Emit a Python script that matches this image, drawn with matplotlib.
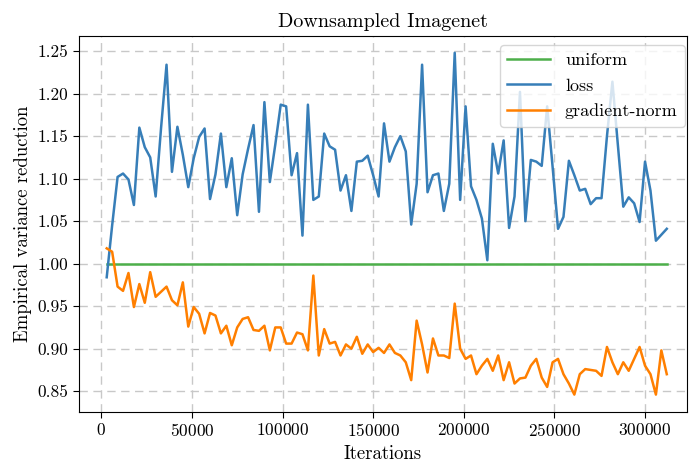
import numpy as np
import matplotlib
matplotlib.use("Agg")
import matplotlib.pyplot as plt

# iterations (every 3000 steps)
iterations = [3000 * k for k in range(1, 105)]

loss = [0.984, 1.045, 1.102, 1.106, 1.099, 1.069, 1.160, 1.137, 1.125, 1.079,
        1.160, 1.234, 1.108, 1.161, 1.128, 1.090, 1.124, 1.149, 1.159, 1.076,
        1.105, 1.153, 1.090, 1.124, 1.057, 1.105, 1.135, 1.163, 1.061, 1.190,
        1.096, 1.140, 1.187, 1.185, 1.104, 1.130, 1.033, 1.187, 1.075, 1.079,
        1.153, 1.138, 1.134, 1.086, 1.104, 1.062, 1.120, 1.121, 1.127, 1.104,
        1.079, 1.165, 1.120, 1.137, 1.150, 1.132, 1.046, 1.094, 1.234, 1.084,
        1.104, 1.106, 1.062, 1.094, 1.248, 1.075, 1.185, 1.091, 1.075, 1.053,
        1.004, 1.141, 1.106, 1.145, 1.042, 1.079, 1.202, 1.050, 1.122, 1.120,
        1.115, 1.185, 1.114, 1.041, 1.055, 1.121, 1.104, 1.086, 1.088, 1.070,
        1.077, 1.077, 1.150, 1.214, 1.140, 1.067, 1.078, 1.071, 1.049, 1.120,
        1.086, 1.027, 1.034, 1.041]

grad_norm = [1.018, 1.014, 0.973, 0.968, 0.989, 0.949, 0.976, 0.954, 0.990, 0.961,
             0.967, 0.973, 0.957, 0.951, 0.978, 0.926, 0.949, 0.941, 0.918, 0.942,
             0.939, 0.918, 0.927, 0.904, 0.925, 0.935, 0.937, 0.922, 0.921, 0.927,
             0.898, 0.925, 0.925, 0.906, 0.906, 0.919, 0.917, 0.898, 0.986, 0.892,
             0.923, 0.906, 0.908, 0.892, 0.905, 0.900, 0.914, 0.894, 0.905, 0.896,
             0.901, 0.895, 0.905, 0.895, 0.892, 0.884, 0.863, 0.933, 0.905, 0.872,
             0.912, 0.892, 0.892, 0.889, 0.953, 0.900, 0.888, 0.892, 0.870, 0.880,
             0.888, 0.874, 0.892, 0.863, 0.884, 0.859, 0.865, 0.866, 0.880, 0.888,
             0.866, 0.855, 0.884, 0.888, 0.870, 0.859, 0.846, 0.870, 0.876, 0.875,
             0.874, 0.868, 0.902, 0.884, 0.870, 0.884, 0.874, 0.888, 0.902, 0.880,
             0.870, 0.846, 0.898, 0.870]

uniform = [1.0] * len(iterations)

plt.rcParams['font.family'] = 'serif'
plt.rcParams['font.serif'] = ['cmr10', 'DejaVu Serif']
plt.rcParams['mathtext.fontset'] = 'cm'
plt.rcParams['axes.formatter.use_mathtext'] = True
plt.rcParams['font.size'] = 12.5

fig = plt.figure(figsize=(6.91, 4.62), dpi=100)
ax = fig.add_axes([0.1143, 0.1089, 0.8795, 0.8138])

ax.plot(iterations, uniform, color='#4daf4a', lw=1.8, label='uniform')
ax.plot(iterations, loss, color='#377eb8', lw=1.8, label='loss')
ax.plot(iterations, grad_norm, color='#ff7f00', lw=1.8, label='gradient-norm')

ax.set_xlim(-12300, 323000)
ax.set_xticks([0, 50000, 100000, 150000, 200000, 250000, 300000])
ax.set_yticks(np.arange(0.85, 1.2501, 0.05))
ax.yaxis.set_major_formatter(matplotlib.ticker.FormatStrFormatter('%.2f'))
ax.grid(True, color='#c8c8c8', linestyle=(0, (6, 4)), linewidth=1.0)
ax.set_axisbelow(True)
ax.tick_params(direction='out', length=4, width=0.8)

ax.set_title('Downsampled Imagenet', fontsize=14.5)
ax.set_xlabel('Iterations', fontsize=13.5)
ax.set_ylabel('Empirical variance reduction', fontsize=13.5)
ax.legend(loc='upper right', bbox_to_anchor=(0.997, 0.975),
          framealpha=0.8, edgecolor='#cccccc', fontsize=13,
          handlelength=2.4, labelspacing=0.55, borderaxespad=0.0)

fig.savefig('out.png', dpi=100)
